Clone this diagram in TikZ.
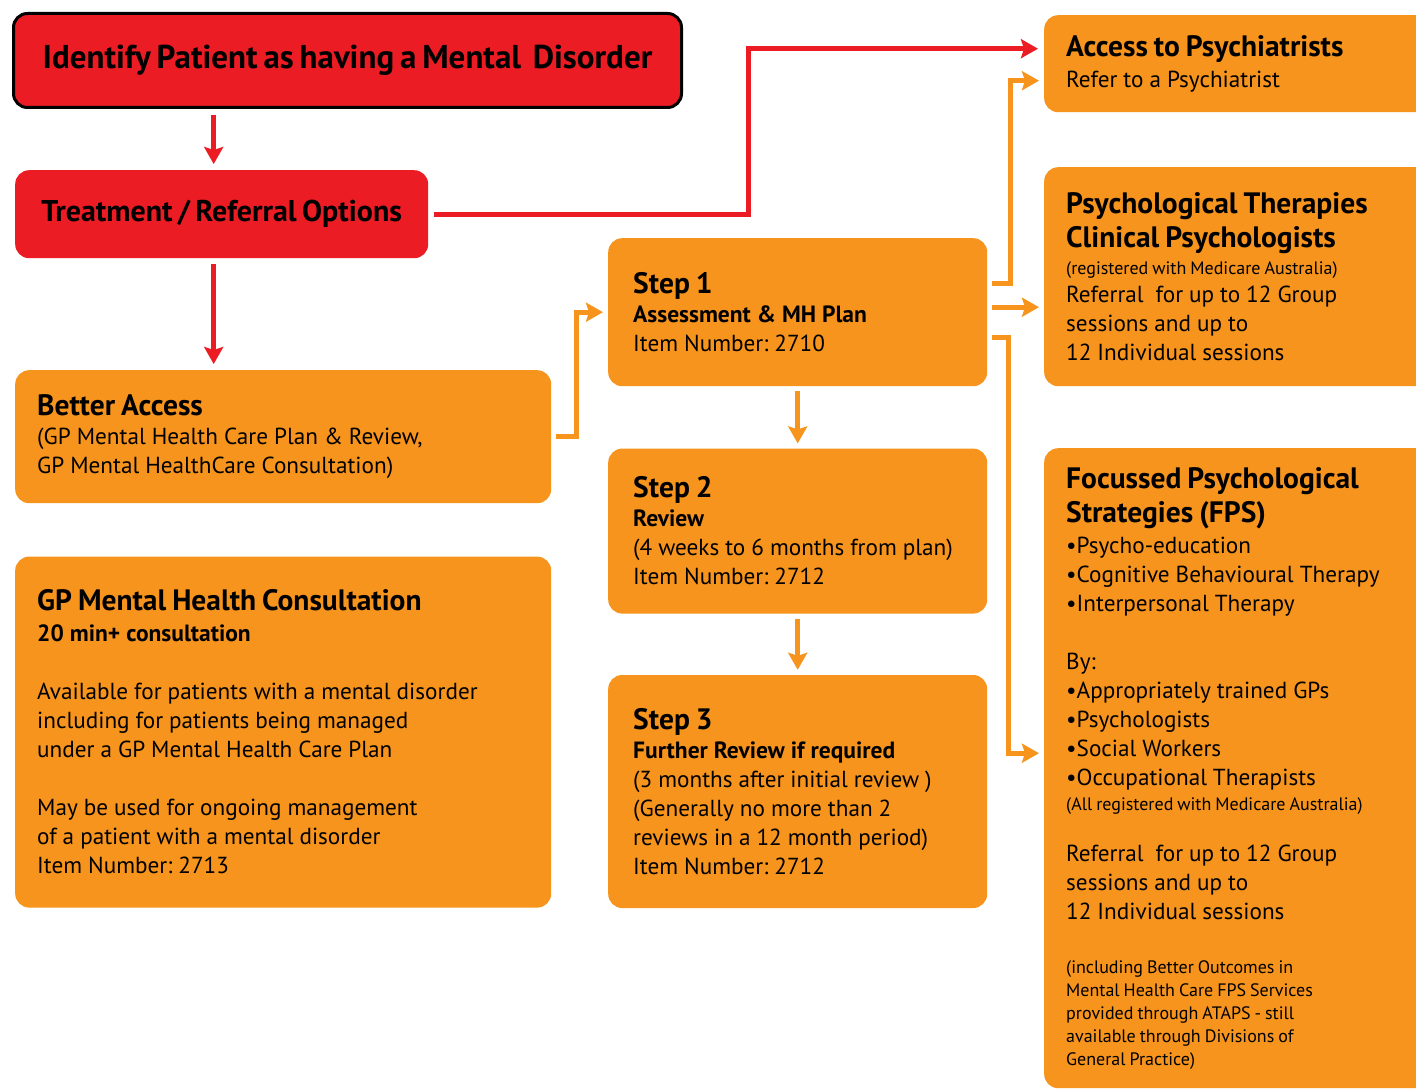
\documentclass[tikz,border=0pt]{standalone}
\usepackage{fontspec}
\setmainfont{PT Sans}[WordSpace=0.7]
\usetikzlibrary{%
  positioning
 ,arrows.meta
}
\frenchspacing
\definecolor{mhred}{RGB}{236,28,36}
\definecolor{mhorange}{RGB}{247,148,29}
\newcommand{\bodyfont}{\fontsize{23.2}{29}\selectfont}
\newcommand{\tight}{\spaceskip 6pt plus 2pt minus 1pt\relax}
\newcommand{\hd}{\fontsize{29.5}{29}\selectfont\bfseries}
\newcommand{\sbd}{\fontsize{23.5}{29}\selectfont\bfseries}
\newcommand{\sml}{\fontsize{18}{23}\selectfont\spaceskip 4pt plus 1pt minus 1pt\relax}
\tikzstyle{redbox}=[rectangle,rounded corners=14pt,fill=mhred,anchor=north west,align=center,inner sep=0pt,font=\fontsize{33}{36}\selectfont\bfseries]
\tikzstyle{orbox}=[rectangle,rounded corners=14pt,fill=mhorange,anchor=north west,inner xsep=22pt,inner ysep=0pt,align=left,font=\bodyfont,execute at begin node=\tight]
\tikzstyle{redarr}=[draw=mhred,line width=5pt,-{Stealth[length=17pt,width=19pt,inset=3pt]},shorten <=6pt,shorten >=6pt]
\tikzstyle{orarr}=[draw=mhorange,line width=5pt,-{Stealth[length=17pt,width=19pt,inset=3pt]},shorten <=5pt,shorten >=5pt]

\begin{document}
\begin{tikzpicture}[x=1pt,y=1pt]
  \clip (0,0) rectangle (1416,-1091);
  \fill[white] (0,0) rectangle (1416,-1091);
  % left column
  \node[redbox,draw=black,line width=3pt,minimum width=668pt,minimum height=94pt] (ident) at (12,-12)
    {Identify Patient as having a Mental\ \ Disorder};
  \node[redbox,font=\fontsize{30}{34}\selectfont\bfseries,minimum width=413pt,minimum height=88pt] (treat) at (15,-170)
    {Treatment / Referral Options};
  \node[orbox,text width=492pt,minimum height=133pt] (better) at (15,-370)
    {{\hd Better Access}\\
     (GP Mental Health Care Plan \& Review,\\
     GP Mental HealthCare Consultation)};
  \node[orbox,text width=492pt,minimum height=351pt,below=53pt of better] (gpcons)
    {{\hd GP Mental Health Consultation}\\[2pt]
     {\sbd 20 min+ consultation}\\[29pt]
     Available for patients with a mental disorder\\
     including for patients being managed\\
     under a GP Mental Health Care Plan\\[29pt]
     May be used for ongoing management\\
     of a patient with a mental disorder\\
     Item Number: 2713};
  % steps
  \node[orbox,inner xsep=25pt,text width=329pt,minimum height=148pt] (step1) at (608,-238)
    {{\hd Step 1}\\
     {\sbd Assessment \& MH Plan}\\
     Item Number: 2710};
  \node[orbox,inner xsep=25pt,text width=329pt,minimum height=165pt,below=62pt of step1] (step2)
    {{\hd Step 2}\\
     {\sbd Review}\\
     \mbox{(4 weeks to 6 months from plan)}\\
     Item Number: 2712};
  \node[orbox,inner xsep=25pt,text width=329pt,minimum height=233pt,below=61pt of step2] (step3)
    {{\hd Step 3}\\
     {\sbd Further Review if required}\\
     (3 months after initial review )\\
     (Generally no more than 2\\
     reviews in a 12 month period)\\
     Item Number: 2712};
  % right column
  \node[orbox,text width=350pt,minimum height=97pt] (psychiatr) at (1044,-15)
    {{\hd Access to Psychiatrists}\\[2pt]
     Refer to a Psychiatrist};
  \node[orbox,text width=350pt,minimum height=219pt] (psychther) at (1044,-167)
    {{\hd Psychological Therapies}\\[5pt]
     {\hd Clinical Psychologists}\\[-2pt]
     {\sml (registered with Medicare Australia)}\\[-1pt]
     Referral\ \ for up to 12 Group\\
     sessions and up to\\
     12 Individual sessions};
  \node[orbox,text width=350pt,minimum height=640pt] (fps) at (1044,-448)
    {{\hd Focussed Psychological}\\[5pt]
     {\hd Strategies (FPS)}\\[2pt]
     \textbullet Psycho-education\\
     \textbullet Cognitive Behavioural Therapy\\
     \textbullet Interpersonal Therapy\\[29pt]
     By:\\
     \textbullet Appropriately trained GPs\\
     \textbullet Psychologists\\
     \textbullet Social Workers\\
     \textbullet Occupational Therapists\\[-4pt]
     {\sml (All registered with Medicare Australia)}\\[22pt]
     Referral\ \ for up to 12 Group\\
     sessions and up to\\
     12 Individual sessions\par
     \vspace{31pt}
     {\sml (including Better Outcomes in\\
     Mental Health Care FPS Services\\
     provided through ATAPS - still\\
     available through Divisions of\\
     General Practice)\par}};
  % connectors
  \coordinate (s1top) at ([yshift=29pt]step1.east);
  \coordinate (s1mid) at ([yshift=5pt]step1.east);
  \coordinate (s1low) at ([yshift=-25pt]step1.east);
  \draw[redarr] ([xshift=-8pt]ident.south -| treat.north) -- ([xshift=-8pt]treat.north);
  \draw[redarr] ([xshift=-8pt]treat.south) -- ([xshift=-8pt]treat.south |- better.north);
  \draw[redarr] (treat.east) -- ++(320,0) |- ([yshift=15pt]psychiatr.west);
  \draw[orarr] (better.east) -- ++(25,0) |- (step1.west);
  \draw[orarr] (step1) -- (step2);
  \draw[orarr] (step2) -- (step3);
  \draw[orarr] (s1top) -- ++(23,0) |- ([yshift=-17pt]psychiatr.west);
  \draw[orarr] (s1mid) -- (s1mid -| psychther.west);
  \draw[orarr] (s1low) -- ++(21,0) |- ([yshift=15pt]fps.west);
\end{tikzpicture}
\end{document}
